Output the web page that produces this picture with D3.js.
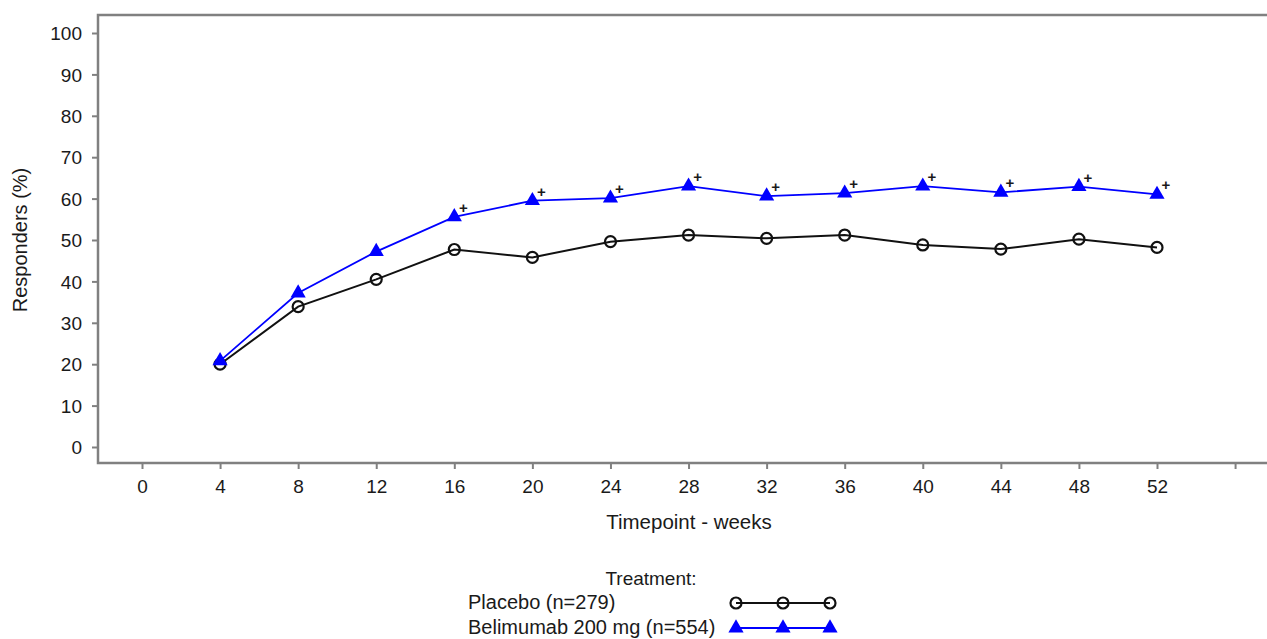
<!DOCTYPE html>
<html>
<head>
<meta charset="utf-8">
<script src="https://cdn.jsdelivr.net/npm/d3@7"></script>
<style>
  body{margin:0;background:#fff;}
  text{font-family:"Liberation Sans",Arial,sans-serif;fill:#1a1a1a;}
</style>
</head>
<body>
<svg id="chart"></svg>
<script>
// data
var weeks=[4,8,12,16,20,24,28,32,36,40,44,48,52]
var placebo=[20,33.9,40.5,47.7,45.8,49.6,51.2,50.4,51.2,48.8,47.8,50.2,48.2]
var belimumab=[20.8,37.2,47.2,55.6,59.5,60.1,63,60.6,61.3,63,61.5,62.9,61]
// weeks flagged with a "+" on the belimumab line
var plusWeeks=[16,20,24,28,32,36,40,44,48,52]
var yTicks=[0,10,20,30,40,50,60,70,80,90,100]
var xTicks=[0,4,8,12,16,20,24,28,32,36,40,44,48,52,56]
var xLabels=["0","4","8","12","16","20","24","28","32","36","40","44","48","52",""]
var legendNames=["Placebo (n=279)","Belimumab 200 mg (n=554)"]

var screen={width:1267,height:639}
var frame={left:98,top:15,bottom:463}

var svg=d3.select("#chart")
    .attr("width",screen.width)
    .attr("height",screen.height)

var xScale=d3.scaleLinear()
    .domain([0,52])
    .range([142,1157])
var yScale=d3.scaleLinear()
    .domain([0,100])
    .range([447,33])

var axisColor="#808080"

//frame: top and left border, bottom axis line
svg.append("path")
    .attr("d","M"+screen.width+","+frame.top+"H"+frame.left+"V"+frame.bottom+"H"+screen.width)
    .attr("fill","none")
    .attr("stroke",axisColor)
    .attr("stroke-width",2.5)

var yAxis=svg.append("g")
    .attr("transform","translate("+frame.left+",0)")
    .call(d3.axisLeft(yScale).tickValues(yTicks).tickSize(6).tickPadding(10))
yAxis.select(".domain").remove()
yAxis.selectAll("line").attr("stroke",axisColor).attr("stroke-width",2)
yAxis.selectAll("text").style("font-size","19px").attr("fill","#1a1a1a").attr("dy","0.35em")

var xAxis=svg.append("g")
    .attr("transform","translate(0,"+frame.bottom+")")
    .call(d3.axisBottom(xScale).tickValues(xTicks).tickSize(6).tickPadding(11)
        .tickFormat(function(d,i){return xLabels[i]}))
xAxis.select(".domain").remove()
xAxis.selectAll("line").attr("stroke",axisColor).attr("stroke-width",2)
xAxis.selectAll("text").style("font-size","19px").attr("fill","#1a1a1a")

//axis titles
svg.append("text")
    .attr("transform","translate(27,240) rotate(-90)")
    .attr("text-anchor","middle")
    .style("font-size","20px")
    .text("Responders (%)")
svg.append("text")
    .attr("x",689)
    .attr("y",529)
    .attr("text-anchor","middle")
    .style("font-size","20.5px")
    .text("Timepoint - weeks")

var line=d3.line()
    .x(function(d){return xScale(d[0])})
    .y(function(d){return yScale(d[1])})

var placeboPts=weeks.map(function(w,i){return [w,placebo[i]]})
var belPts=weeks.map(function(w,i){return [w,belimumab[i]]})

svg.append("path")
    .datum(placeboPts)
    .attr("d",line)
    .attr("fill","none")
    .attr("stroke","#111")
    .attr("stroke-width",2)
svg.append("path")
    .datum(belPts)
    .attr("d",line)
    .attr("fill","none")
    .attr("stroke","#0000ff")
    .attr("stroke-width",1.8)

var tri=d3.symbol().type(d3.symbolTriangle).size(100)

svg.selectAll(".pc")
    .data(placeboPts)
    .enter()
    .append("circle")
    .attr("class","pc")
    .attr("cx",function(d){return xScale(d[0])})
    .attr("cy",function(d){return yScale(d[1])})
    .attr("r",5.5)
    .attr("fill","none")
    .attr("stroke","#111")
    .attr("stroke-width",2.2)

svg.selectAll(".bt")
    .data(belPts)
    .enter()
    .append("path")
    .attr("class","bt")
    .attr("d",tri)
    .attr("transform",function(d){return "translate("+xScale(d[0])+","+yScale(d[1])+")"})
    .attr("fill","#0000ff")

//plus signs next to the triangles
svg.selectAll(".plus")
    .data(plusWeeks)
    .enter()
    .append("text")
    .attr("class","plus")
    .attr("x",function(w){return xScale(w)+9})
    .attr("y",function(w){return yScale(belimumab[weeks.indexOf(w)])-4})
    .attr("text-anchor","middle")
    .style("font-size","15px")
    .style("font-weight","bold")
    .text("+")

//legend
svg.append("text")
    .attr("x",651)
    .attr("y",585)
    .attr("text-anchor","middle")
    .style("font-size","19px")
    .text("Treatment:")

var legendY=[603,628]
svg.selectAll(".lname")
    .data(legendNames)
    .enter()
    .append("text")
    .attr("class","lname")
    .attr("x",468)
    .attr("y",function(d,i){return legendY[i]+6})
    .style("font-size","20px")
    .text(function(d){return d})

var lx=[736,783,830]
svg.append("line").attr("x1",lx[0]).attr("x2",lx[2])
    .attr("y1",legendY[0]).attr("y2",legendY[0])
    .attr("stroke","#111").attr("stroke-width",2.2)
svg.selectAll(".lc").data(lx).enter().append("circle")
    .attr("cx",function(d){return d}).attr("cy",legendY[0]).attr("r",5.5)
    .attr("fill","none").attr("stroke","#111").attr("stroke-width",2.2)
svg.append("line").attr("x1",lx[0]).attr("x2",lx[2])
    .attr("y1",legendY[1]).attr("y2",legendY[1])
    .attr("stroke","#0000ff").attr("stroke-width",1.8)
svg.selectAll(".lt").data(lx).enter().append("path")
    .attr("d",tri)
    .attr("transform",function(d){return "translate("+d+","+legendY[1]+")"})
    .attr("fill","#0000ff")
</script>
</body>
</html>
